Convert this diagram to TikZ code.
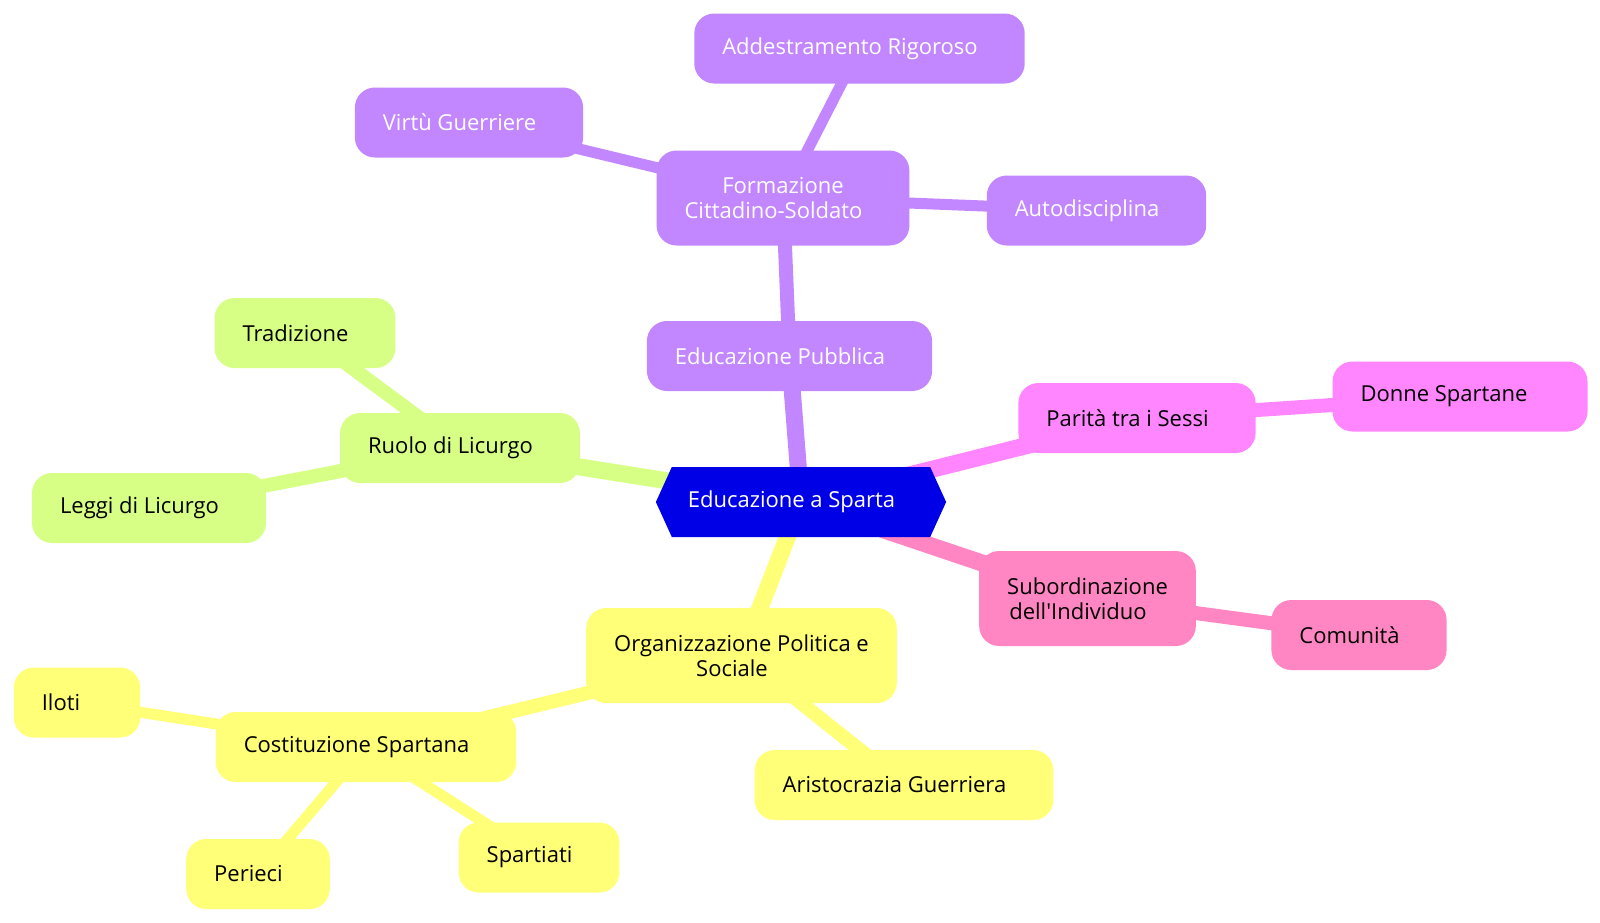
\documentclass[tikz,border=0pt]{standalone}
\usepackage{fontspec}
\setmainfont{Open Sans}
\usetikzlibrary{shapes.symbols,backgrounds}
\definecolor{radice}{HTML}{0000E6}
\definecolor{viola}{HTML}{C286FF}
\definecolor{giallo}{HTML}{FFFF78}
\definecolor{verde}{HTML}{D7FF86}
\definecolor{fucsia}{HTML}{FF86FF}
\definecolor{rosa}{HTML}{FF86C2}
\newcommand{\coda}{\kern19pt\relax}

\begin{document}
\begin{tikzpicture}[x=1pt,y=-1pt,
  testo/.style={font=\fontsize{22}{25}\selectfont, inner ysep=0pt, align=center},
  ramo/.style={testo, rectangle, rounded corners=20pt, inner xsep=28pt,
    minimum height=70pt, fill=#1},
  doppio/.style={minimum height=95pt},
  radicebox/.style={testo, signal, signal to=west and east, signal pointer angle=131,
    inner xsep=16pt, minimum height=70pt, fill=radice, text=white}]
  \useasboundingbox (0,0) rectangle (1600,922);
  % radice
  \node[radicebox] (root) at (801,502) {Educazione a Sparta\coda};
  % educazione pubblica
  \node[ramo=viola, text=white] (pub) at (789.5,356) {Educazione Pubblica\coda};
  \node[ramo=viola, text=white, doppio] (form) at (783,198) {Formazione\\Cittadino-Soldato\coda};
  \node[ramo=viola, text=white] (addestr) at (859.5,48.5) {Addestramento Rigoroso\coda};
  \node[ramo=viola, text=white] (virtu) at (469,122.5) {Virtù Guerriere\coda};
  \node[ramo=viola, text=white] (autod) at (1096.5,210.5) {Autodisciplina\coda};
  % parita e individuo
  \node[ramo=fucsia] (parita) at (1137,418) {Parità tra i Sessi\coda};
  \node[ramo=fucsia] (donne) at (1460,396.5) {Donne Spartane\coda\kern13pt};
  \node[ramo=rosa, doppio] (subord) at (1087.5,598.5) {Subordinazione\\dell\textquotesingle Individuo\coda};
  \node[ramo=rosa] (comun) at (1359,635) {Comunità\coda};
  % organizzazione
  \node[ramo=giallo, doppio] (org) at (741.5,655.5) {Organizzazione Politica e\\Sociale\coda};
  \node[ramo=giallo] (aristo) at (904,785) {Aristocrazia Guerriera\coda};
  \node[ramo=giallo] (costit) at (366,747) {Costituzione Spartana\coda};
  \node[ramo=giallo] (iloti) at (77,702.5) {Iloti\coda\kern13pt};
  \node[ramo=giallo] (perieci) at (258,874) {Perieci\coda};
  \node[ramo=giallo] (spartiati) at (539,857.5) {Spartiati\coda};
  % licurgo
  \node[ramo=verde] (ruolo) at (460,448) {Ruolo di Licurgo\coda};
  \node[ramo=verde] (tradiz) at (305,333) {Tradizione\coda};
  \node[ramo=verde] (leggi) at (149,508) {Leggi di Licurgo\coda};

  \begin{pgfonlayer}{background}
    \foreach \a/\b/\c in {root/pub/viola, root/parita/fucsia, root/subord/rosa,
        root/org/giallo, root/ruolo/verde}
      \draw[line width=17pt, \c] (\a.center) -- (\b.center);
    \foreach \a/\b/\c in {pub/form/viola, parita/donne/fucsia, subord/comun/rosa,
        org/costit/giallo, org/aristo/giallo, ruolo/tradiz/verde, ruolo/leggi/verde}
      \draw[line width=14pt, \c] (\a.center) -- (\b.center);
    \foreach \a/\b/\c in {form/addestr/viola, form/virtu/viola, form/autod/viola,
        costit/iloti/giallo, costit/perieci/giallo, costit/spartiati/giallo}
      \draw[line width=11pt, \c] (\a.center) -- (\b.center);
  \end{pgfonlayer}
\end{tikzpicture}
\end{document}
